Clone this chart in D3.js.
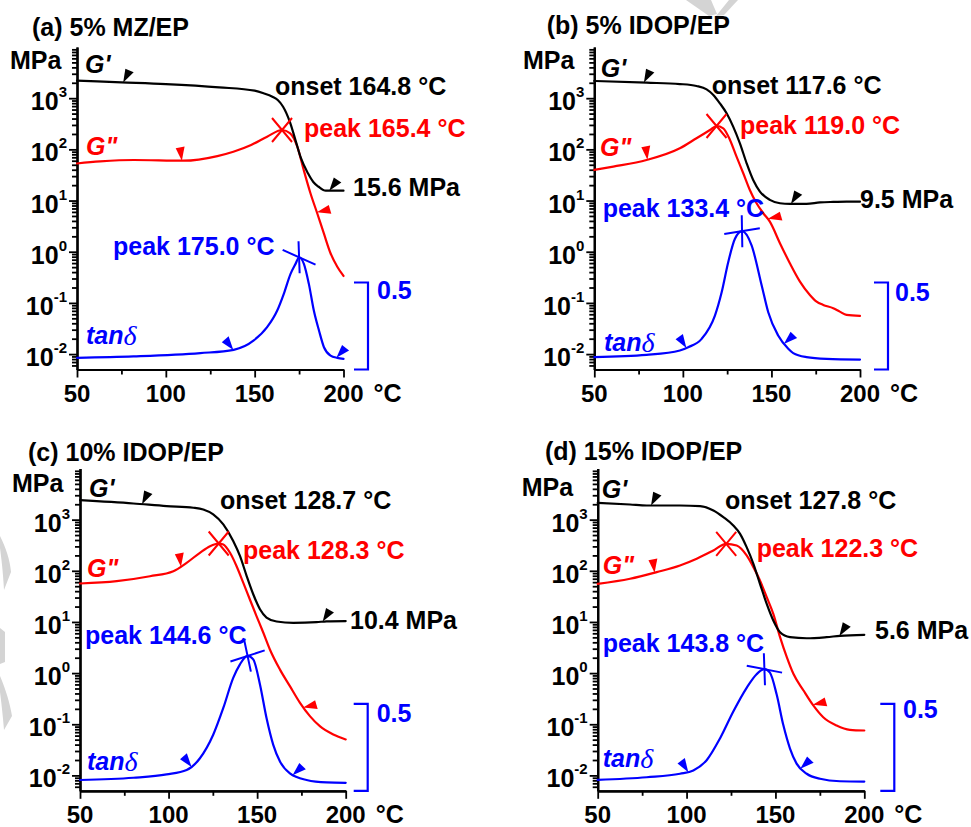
<!DOCTYPE html>
<html>
<head>
<meta charset="utf-8">
<script src="https://cdn.jsdelivr.net/npm/d3@7"></script>
<style>
  html, body { margin: 0; padding: 0; background: #fff; }
  svg { display: block; }
  text { font-family: "Liberation Sans", Arial, Helvetica, sans-serif; font-weight: bold; }
</style>
</head>
<body>
<svg id="chart" width="971" height="827"></svg>
<script>
// ---- values -------------------------------------------------------------
const panelTitles = ["(a) 5% MZ/EP", "(b) 5% IDOP/EP", "(c) 10% IDOP/EP", "(d) 15% IDOP/EP"];
const xTicks = [50, 100, 150, 200];
const xMinorTicks = [75, 125, 175];
const yExponents = [-2, -1, 0, 1, 2, 3];
const onsetT = [164.8, 117.6, 128.7, 127.8];      // G' onset, °C
const lossPeakT = [165.4, 119.0, 128.3, 122.3];   // G'' peak, °C
const tanPeakT = [175.0, 133.4, 144.6, 143.8];    // tanδ peak, °C
const rubberyModulus = [15.6, 9.5, 10.4, 5.6];    // G' at 200 °C, MPa
const tanBracket = 0.5;

// storage modulus G' [°C, MPa]
const storageA = [[50,2200],[75,2040],[100,1890],[130,1630],[150,1400],[155,1250],[160,1070],[163,920],[166,680],[170,330],[173,150],[176,68],[180,34],[183,23],[186,18.6],[190,15.6],[200,15.6]];
const storageB = [[50,2170],[79.5,2010],[98.3,1890],[107.7,1730],[113.4,1490],[117.2,1160],[120.9,794],[124.7,507],[128.4,278],[132.2,131],[136,53.5],[139.7,25.2],[143.5,15.0],[149.1,10.3],[154.8,8.85],[160.4,8.6],[169.8,8.6],[177.4,9.2],[184.9,9.4],[192.4,9.5],[200,9.5]];
const storageC = [[50,2400],[80.1,2070],[98.9,1840],[114,1710],[119.6,1580],[125.2,1270],[130.9,809],[136.5,383],[140.3,195],[144.1,79],[147.8,34.8],[151.6,17.7],[155.3,12.2],[161,10.2],[170.4,9.6],[183.6,9.9],[189.2,10.3],[200,10.4]];
const storageD = [[50,2130],[68.2,1980],[77.6,1890],[96.3,1890],[107.6,1840],[115.1,1510],[120.7,1120],[126.3,769],[130.1,528],[133.8,290],[137.6,137],[141.3,55.7],[145.1,22.6],[148.8,10.7],[152.6,6.3],[158.2,5.05],[167.6,4.8],[178.8,5.05],[186.3,5.35],[200,5.6]];

// loss modulus G'' [°C, MPa]
const lossA = [[50,53],[63,58],[82,62],[110,60],[129,74],[138,90],[148,122],[157,177],[165.4,239],[170,206],[174,113],[177.6,39.6],[181.4,13.9],[185.2,5.65],[188.9,2.3],[192.7,0.935],[196.5,0.51],[200,0.336]];
const lossB = [[50,39.6],[60.7,46],[79.5,62],[98.3,105],[107.7,165],[115.3,239],[119,286],[122.8,258],[126.6,153],[130.3,72],[134.1,34.1],[137.8,16.1],[141.6,8.85],[145.4,5.65],[149.1,3.87],[154.8,1.47],[160.4,0.596],[166.1,0.261],[171.7,0.143],[175.5,0.106],[179.2,0.0914],[184.9,0.0787],[188.6,0.0676],[192.4,0.0583],[200,0.0557]];
const lossC = [[50,56.5],[70.7,62.7],[89.5,78.3],[102.7,98],[110.2,143],[117.7,225],[123.4,303],[128.3,342],[130.9,327],[134.7,225],[138.4,123],[142.2,58.2],[145.9,27.5],[149.7,12.9],[153.5,6.14],[157.2,2.9],[162.9,1.17],[168.5,0.555],[174.2,0.262],[179.8,0.144],[185.4,0.0916],[193,0.063],[200,0.0504]];
const lossD = [[50,55.7],[68.2,69.8],[83.2,94.2],[96.3,127],[105.7,172],[115.1,250],[122.3,337],[128.2,313],[133.8,200],[137.6,118],[141.3,64.7],[145.1,30.5],[148.8,14.4],[152.6,5.05],[156.4,2.05],[160.1,0.968],[165.8,0.457],[171.3,0.233],[176.9,0.137],[184.4,0.0944],[191.9,0.0778],[200,0.0755]];

// loss factor tanδ [°C, tanδ]
const tanA = [[50,0.067],[81.8,0.075],[119.4,0.094],[138.2,0.113],[149.5,0.167],[157,0.243],[162.7,0.339],[166.4,0.435],[170.2,0.55],[173,0.607],[175,0.645],[177.7,0.607],[180.5,0.492],[183.3,0.339],[186.2,0.224],[189,0.128],[192.7,0.08],[196.5,0.067],[200,0.061]];
const tanB = [[50,0.071],[79.5,0.084],[98.3,0.109],[103,0.128],[110.6,0.176],[118.1,0.31],[121.9,0.444],[125.6,0.617],[129.4,0.751],[133.4,0.795],[138.8,0.713],[144.5,0.483],[148.2,0.329],[153.8,0.195],[159.5,0.119],[162.3,0.094],[169.8,0.071],[181.1,0.061],[200,0.057]];
const tanC = [[50,0.062],[80.1,0.075],[98.9,0.094],[110.2,0.119],[117.7,0.187],[125.2,0.322],[130.9,0.476],[136.5,0.649],[140.3,0.727],[144.6,0.775],[147.8,0.755],[151.6,0.611],[155.3,0.418],[159.1,0.264],[162.9,0.168],[168.5,0.1],[177.9,0.062],[189.2,0.048],[200,0.046]];
const tanD = [[50,0.063],[77.6,0.078],[96.3,0.098],[103.8,0.117],[111.3,0.176],[118.8,0.301],[126.3,0.456],[133.8,0.592],[139.4,0.67],[143.8,0.699],[146.9,0.679],[150.7,0.553],[154.4,0.379],[158.2,0.243],[161.9,0.156],[167.6,0.098],[175.1,0.069],[186.3,0.055],[200,0.053]];

const storage = [storageA, storageB, storageC, storageD];
const loss = [lossA, lossB, lossC, lossD];
const tand = [tanA, tanB, tanC, tanD];

// ---- panel frames and label placement -----------------------------------
const frames = [
  { x0: 77,    x1: 343.5, yTop: 47,    yBot: 369.5, bx: 368,   title: [32, 27],     unit: [10, 60],
    gp: [85, 64],    gpp: [86, 146],    td: [86, 335],    onset: [275, 86],    lp: [304, 128],   plat: [353, 187],
    tp: [113, 246],  half: [377, 290],  bar: 24,  vert: 2,
    marks: { gp: [[76, 30], [192, 40]], gpp: [[109, -5], [185, 80]], tan: [[138, -35], [196, 45]] } },
  { x0: 594.3, x1: 860,   yTop: 47,    yBot: 369.5, bx: 888,   title: [546.7, 25],  unit: [523, 60],
    gp: [600.7, 68], gpp: [600, 147],   td: [604, 342],   onset: [711.7, 85],  lp: [740, 125],   plat: [860, 199],
    tp: [602.7, 208], half: [895, 292], bar: -9,  vert: 1,
    marks: { gp: [[78, 30], [161, 35]], gpp: [[80, -5], [148, 80]], tan: [[102, -30], [157, 50]] } },
  { x0: 80,    x1: 345.7, yTop: 468.5, yBot: 790.8, bx: 367.7, title: [28, 452],    unit: [12, 483],
    gp: [89, 488],   gpp: [87, 568],    td: [87, 761],    onset: [220, 500],   lp: [243, 550],   plat: [350, 620],
    tp: [85, 635],   half: [376.7, 713], bar: -18, vert: 12,
    marks: { gp: [[85, 30], [187, 35]], gpp: [[107, -5], [176, 80]], tan: [[113, -35], [170, 50]] } },
  { x0: 597.7, x1: 864.3, yTop: 468.5, yBot: 790.8, bx: 894.3, title: [545, 451],   unit: [521.7, 487],
    gp: [601.7, 489], gpp: [602.7, 565], td: [602.7, 758], onset: [725, 500],  lp: [756.7, 548], plat: [875, 630],
    tp: [602.7, 643], half: [903, 709], bar: 11,  vert: 2,
    marks: { gp: [[80, 30], [186, 35]], gpp: [[82, -5], [171, 80]], tan: [[101, -30], [164, 50]] } }
];

const BLACK = "#000000", RED = "#ff0000", BLUE = "#0000ff";
const FS = 25;       // annotation / title size
const TICK_FS = 24;  // axis number size
const svg = d3.select("#chart");

// faint grey fragments of a background logo
const ghost = svg.append("g").attr("fill", "#d4d4d4");
ghost.append("path").attr("d", "M686,0 L711,0 L717,14 L709,16 Z");
ghost.append("path").attr("d", "M716,16 L729,0 L738,0 L724,15 Z");
ghost.append("path").attr("d", "M0,536 C6,548 10,560 11,572 L4,590 C3,570 1,556 0,548 Z");
ghost.append("path").attr("d", "M0,628 L5,632 L5,662 L0,664 Z");
ghost.append("path").attr("d", "M0,676 C6,690 10,704 12,716 L4,730 C3,716 1,700 0,692 Z");

function yOnPath(node, xTarget) {
  let lo = 0, hi = node.getTotalLength();
  for (let i = 0; i < 40; i++) {
    const mid = (lo + hi) / 2;
    if (node.getPointAtLength(mid).x < xTarget) lo = mid; else hi = mid;
  }
  return node.getPointAtLength((lo + hi) / 2).y;
}

function label(g, txt, pos, color, opts = {}) {
  return g.append("text")
    .attr("x", pos[0]).attr("y", pos[1])
    .attr("dominant-baseline", "central")
    .attr("font-size", opts.size || FS)
    .attr("font-style", opts.italic ? "italic" : null)
    .attr("fill", color)
    .text(txt);
}

frames.forEach((f, i) => {
  const g = svg.append("g");
  const x = d3.scaleLinear().domain([50, 200]).range([f.x0, f.x1]);
  const y = d3.scaleLog().domain([0.005, 10000]).range([f.yBot, f.yTop]);
  const yTan = d3.scaleLinear().domain([0, tanBracket]).range([f.yBot, f.yBot - 87]);

  // y axis: log ticks, majors at decades, minors at 2..9
  const minors = [];
  for (let e = -3; e <= 3; e++) for (let m = 2; m <= 9; m++) {
    const v = m * Math.pow(10, e);
    if (v > 0.005 && v < 10000) minors.push(v);
  }
  const majors = yExponents.map(e => Math.pow(10, e));
  const yMinorAxis = g.append("g").attr("transform", `translate(${f.x0},0)`)
    .call(d3.axisLeft(y).tickValues(minors).tickSize(5).tickSizeOuter(0).tickFormat(""));
  const yMajorAxis = g.append("g").attr("transform", `translate(${f.x0},0)`)
    .call(d3.axisLeft(y).tickValues(majors).tickSize(8).tickSizeOuter(0).tickFormat(""));
  const xMinorAxis = g.append("g").attr("transform", `translate(0,${f.yBot})`)
    .call(d3.axisBottom(x).tickValues(xMinorTicks).tickSize(5).tickSizeOuter(0).tickFormat(""));
  const xMajorAxis = g.append("g").attr("transform", `translate(0,${f.yBot})`)
    .call(d3.axisBottom(x).tickValues(xTicks).tickSize(8).tickSizeOuter(0).tickFormat(""));
  [yMinorAxis, yMajorAxis, xMinorAxis, xMajorAxis].forEach(a => {
    a.select(".domain").attr("stroke", BLACK).attr("stroke-width", 2.2);
    a.selectAll(".tick line").attr("stroke", BLACK).attr("stroke-width", 1.8);
  });

  // decade labels 10^n
  yExponents.forEach(e => {
    const t = g.append("text")
      .attr("x", f.x0 - 10).attr("y", y(Math.pow(10, e)) + 12)
      .attr("text-anchor", "end").attr("font-size", TICK_FS + 1).attr("fill", BLACK);
    t.append("tspan").text("10");
    t.append("tspan").attr("dy", -13).attr("font-size", 15).text(String(e));
  });
  // temperature labels
  xTicks.forEach(v => {
    g.append("text").attr("x", x(v)).attr("y", f.yBot + 32.5)
      .attr("text-anchor", "middle").attr("font-size", TICK_FS).attr("fill", BLACK).text(v);
  });
  g.append("text").attr("x", f.x1 + 30).attr("y", f.yBot + 32.5)
    .attr("font-size", TICK_FS + 1).attr("fill", BLACK).text("°C");

  label(g, panelTitles[i], f.title, BLACK);
  label(g, "MPa", f.unit, BLACK);

  // curves
  const logLine = d3.line().x(d => x(d[0])).y(d => y(d[1])).curve(d3.curveMonotoneX);
  const tanLine = d3.line().x(d => x(d[0])).y(d => yTan(d[1])).curve(d3.curveMonotoneX);
  const curveStyle = (p, c) => p.attr("fill", "none").attr("stroke", c).attr("stroke-width", 2.2)
    .attr("stroke-linejoin", "round").attr("stroke-linecap", "round");
  const pLoss = curveStyle(g.append("path").attr("d", logLine(loss[i])), RED);
  const pStor = curveStyle(g.append("path").attr("d", logLine(storage[i])), BLACK);
  const pTan = curveStyle(g.append("path").attr("d", tanLine(tand[i])), BLUE);

  // direction pointers sitting on the curves
  const pointer = (path, t, rot, color) => {
    const px = x(t), py = yOnPath(path.node(), px);
    g.append("path").attr("d", "M0,0 L-5,-13 L4,-14 Z")
      .attr("transform", `translate(${px},${py}) rotate(${rot})`).attr("fill", color);
  };
  f.marks.gp.forEach(m => pointer(pStor, m[0], m[1], BLACK));
  f.marks.gpp.forEach(m => pointer(pLoss, m[0], m[1], RED));
  f.marks.tan.forEach(m => pointer(pTan, m[0], m[1], BLUE));

  // G'' peak cross
  const lx = x(lossPeakT[i]), ly = yOnPath(pLoss.node(), lx);
  g.append("path").attr("d", `M${lx - 10},${ly - 12}L${lx + 10},${ly + 12}M${lx - 10},${ly + 12}L${lx + 10},${ly - 12}`)
    .attr("stroke", RED).attr("stroke-width", 2).attr("fill", "none");

  // tanδ peak marker
  const tx = x(tanPeakT[i]), ty = yOnPath(pTan.node(), tx);
  const br = f.bar * Math.PI / 180, vr = f.vert * Math.PI / 180;
  const bl = 18, vl = 16;
  g.append("path")
    .attr("d", `M${tx - bl * Math.cos(br)},${ty - bl * Math.sin(br)}L${tx + bl * Math.cos(br)},${ty + bl * Math.sin(br)}` +
               `M${tx - vl * Math.sin(vr)},${ty - vl * Math.cos(vr)}L${tx + vl * Math.sin(vr)},${ty + vl * Math.cos(vr)}`)
    .attr("stroke", BLUE).attr("stroke-width", 2).attr("fill", "none");

  // tanδ scale bracket
  g.append("path")
    .attr("d", `M${f.bx - 14},${yTan(tanBracket)}H${f.bx}V${yTan(0)}H${f.bx - 14}`)
    .attr("fill", "none").attr("stroke", BLUE).attr("stroke-width", 2.2);
  label(g, String(tanBracket), f.half, BLUE);

  // series names
  label(g, "G'", f.gp, BLACK, { italic: true });
  label(g, 'G"', f.gpp, RED, { italic: true });
  const td = label(g, "", f.td, BLUE, { italic: true });
  td.append("tspan").text("tan");
  td.append("tspan").attr("font-family", "'Liberation Serif', 'DejaVu Serif', serif")
    .attr("font-weight", "normal").attr("font-size", 28).text("δ");

  // annotations
  label(g, `onset ${onsetT[i].toFixed(1)} °C`, f.onset, BLACK);
  label(g, `peak ${lossPeakT[i].toFixed(1)} °C`, f.lp, RED);
  label(g, `${rubberyModulus[i].toFixed(1)} MPa`, f.plat, BLACK);
  label(g, `peak ${tanPeakT[i].toFixed(1)} °C`, f.tp, BLUE);
});
</script>
</body>
</html>
